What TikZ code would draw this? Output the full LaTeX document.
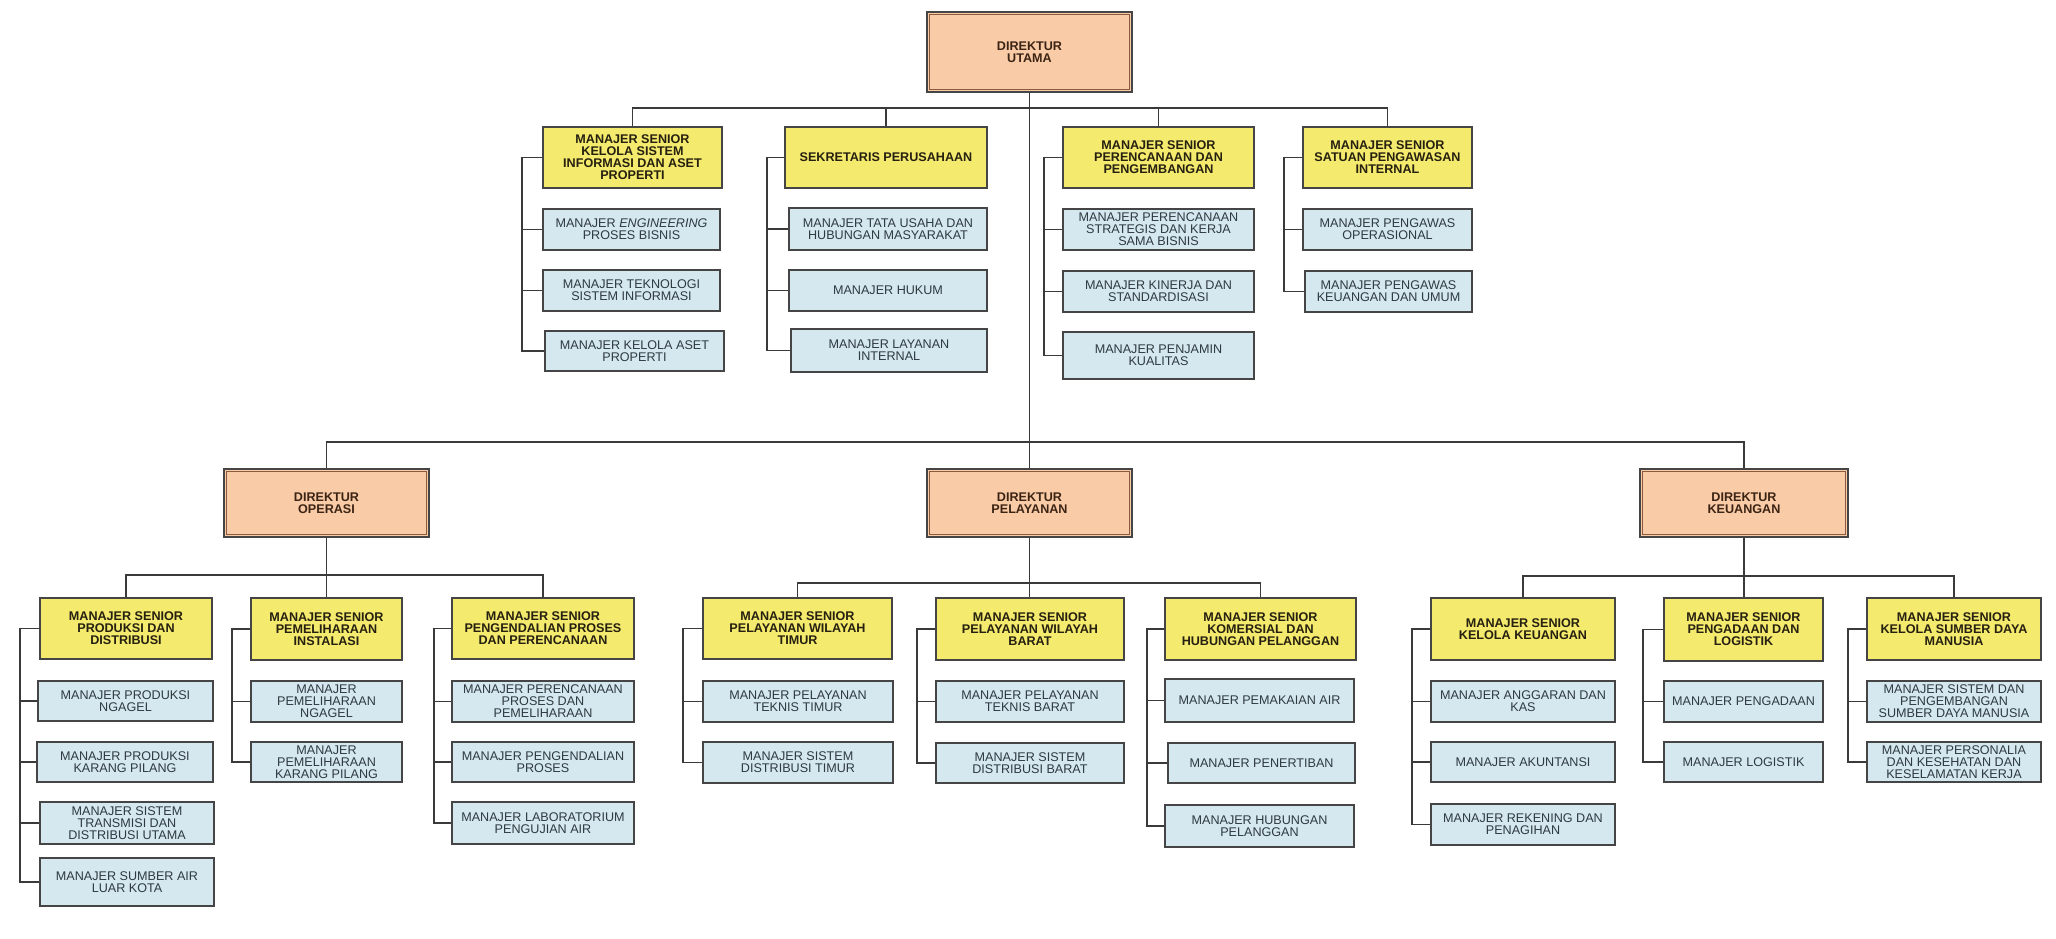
\documentclass[tikz,border=0pt]{standalone}
\usepackage{fontspec}
\setmainfont{Liberation Sans}
\definecolor{ybg}{HTML}{F4EA6D}
\definecolor{bbg}{HTML}{D5E8EF}
\definecolor{pbg}{HTML}{F9CBA7}
\definecolor{lncol}{HTML}{3A3A3A}
\definecolor{bordcol}{HTML}{454545}
\definecolor{ytext}{HTML}{262010}
\definecolor{btext}{HTML}{2E3A40}
\definecolor{dtext}{HTML}{3C2414}
\definecolor{dinner}{HTML}{8A5A3E}
\newcommand{\fs}{\fontsize{12.6}{12}\selectfont}
\tikzset{
  basebox/.style={draw=bordcol, line width=1.4pt, inner sep=0pt, align=center},
  ybox/.style={basebox, fill=ybg, font=\fs\bfseries, text=ytext},
  bbox/.style={basebox, fill=bbg, font=\fs, text=btext},
  dbox/.style={basebox, line width=1.6pt, fill=pbg, font=\fs\bfseries, text=dtext},
  innerln/.style={draw=dinner, line width=0.9pt},
  conn/.style={draw=lncol, line width=1.5pt}
}
\newcommand{\boxnode}[7]{\node[#1, minimum width={#4-#3}, minimum height={#6-#5}] (#2) at ({(#3+#4)/2},{(#5+#6)/2}) {#7};}
\newcommand{\dirinner}[1]{\draw[innerln] ([shift={(3.5,3.5)}]#1.north west) rectangle ([shift={(-3.5,-3.5)}]#1.south east);}
\newcommand{\brk}[4]{%
  \coordinate (b#1) at (#2,0);
  \draw[conn] (#1.west) -- (#1.west -| b#1) |- (#3.west);
  \foreach \ch in {#4} {\draw[conn] (\ch.west -| b#1) -- (\ch.west);}
}
\begin{document}
\begin{tikzpicture}[x=1pt,y=-1pt]
\fill[white] (0,0) rectangle (2056,939);
\useasboundingbox (0,0) rectangle (2056,939);

% ---- top level ----
\boxnode{dbox}{du}{927}{1132}{12}{92}{DIREKTUR\\UTAMA}
\dirinner{du}

\boxnode{ybox}{A}{543}{722}{127}{188}{MANAJER SENIOR\\KELOLA SISTEM\\INFORMASI DAN ASET\\PROPERTI}
\boxnode{ybox}{B}{785}{987}{127}{188}{SEKRETARIS PERUSAHAAN}
\boxnode{ybox}{C}{1063}{1254}{127}{188}{MANAJER SENIOR\\PERENCANAAN DAN\\PENGEMBANGAN}
\boxnode{ybox}{D}{1303}{1472}{127}{188}{MANAJER SENIOR\\SATUAN PENGAWASAN\\INTERNAL}

\boxnode{bbox}{A1}{543}{720}{209}{250}{MANAJER \textit{ENGINEERING}\\PROSES BISNIS}
\boxnode{bbox}{A2}{543}{720}{270}{311}{MANAJER TEKNOLOGI\\SISTEM INFORMASI}
\boxnode{bbox}{A3}{545}{724}{331}{371}{MANAJER KELOLA ASET\\PROPERTI}
\boxnode{bbox}{B1}{789}{987}{208}{250}{MANAJER TATA USAHA DAN\\HUBUNGAN MASYARAKAT}
\boxnode{bbox}{B2}{789}{987}{270}{311}{MANAJER HUKUM}
\boxnode{bbox}{B3}{791}{987}{329}{372}{MANAJER LAYANAN\\INTERNAL}
\boxnode{bbox}{C1}{1063}{1254}{209}{250}{MANAJER PERENCANAAN\\STRATEGIS DAN KERJA\\SAMA BISNIS}
\boxnode{bbox}{C2}{1063}{1254}{271}{312}{MANAJER KINERJA DAN\\STANDARDISASI}
\boxnode{bbox}{C3}{1063}{1254}{332}{379}{MANAJER PENJAMIN\\KUALITAS}
\boxnode{bbox}{D1}{1303}{1472}{209}{250}{MANAJER PENGAWAS\\OPERASIONAL}
\boxnode{bbox}{D2}{1305}{1472}{271}{312}{MANAJER PENGAWAS\\KEUANGAN DAN UMUM}

% ---- directors ----
\boxnode{dbox}{do}{224}{429}{469}{537}{DIREKTUR\\OPERASI}
\boxnode{dbox}{dp}{927}{1132}{469}{537}{DIREKTUR\\PELAYANAN}
\boxnode{dbox}{dk}{1640}{1848}{469}{537}{DIREKTUR\\KEUANGAN}
\dirinner{do}
\dirinner{dp}
\dirinner{dk}

% ---- operasi ----
\boxnode{ybox}{OA}{40}{212}{598}{659}{MANAJER SENIOR\\PRODUKSI DAN\\DISTRIBUSI}
\boxnode{ybox}{OB}{251}{402}{598}{660}{MANAJER SENIOR\\PEMELIHARAAN\\INSTALASI}
\boxnode{ybox}{OC}{452}{634}{598}{659}{MANAJER SENIOR\\PENGENDALIAN PROSES\\DAN PERENCANAAN}
\boxnode{bbox}{OA1}{38}{213}{681}{721}{MANAJER PRODUKSI\\NGAGEL}
\boxnode{bbox}{OA2}{37}{213}{742}{782}{MANAJER PRODUKSI\\KARANG PILANG}
\boxnode{bbox}{OA3}{40}{214}{802}{844}{MANAJER SISTEM\\TRANSMISI DAN\\DISTRIBUSI UTAMA}
\boxnode{bbox}{OA4}{40}{214}{858}{906}{MANAJER SUMBER AIR\\LUAR KOTA}
\boxnode{bbox}{OB1}{251}{402}{681}{722}{MANAJER\\PEMELIHARAAN\\NGAGEL}
\boxnode{bbox}{OB2}{251}{402}{742}{782}{MANAJER\\PEMELIHARAAN\\KARANG PILANG}
\boxnode{bbox}{OC1}{452}{634}{681}{722}{MANAJER PERENCANAAN\\PROSES DAN\\PEMELIHARAAN}
\boxnode{bbox}{OC2}{452}{634}{742}{782}{MANAJER PENGENDALIAN\\PROSES}
\boxnode{bbox}{OC3}{452}{634}{802}{844}{MANAJER LABORATORIUM\\PENGUJIAN AIR}

% ---- pelayanan ----
\boxnode{ybox}{PA}{703}{892}{598}{659}{MANAJER SENIOR\\PELAYANAN WILAYAH\\TIMUR}
\boxnode{ybox}{PB}{936}{1124}{598}{660}{MANAJER SENIOR\\PELAYANAN WILAYAH\\BARAT}
\boxnode{ybox}{PC}{1165}{1356}{598}{660}{MANAJER SENIOR\\KOMERSIAL DAN\\HUBUNGAN PELANGGAN}
\boxnode{bbox}{PA1}{703}{893}{681}{722}{MANAJER PELAYANAN\\TEKNIS TIMUR}
\boxnode{bbox}{PA2}{703}{893}{742}{783}{MANAJER SISTEM\\DISTRIBUSI TIMUR}
\boxnode{bbox}{PB1}{936}{1124}{681}{722}{MANAJER PELAYANAN\\TEKNIS BARAT}
\boxnode{bbox}{PB2}{936}{1124}{743}{783}{MANAJER SISTEM\\DISTRIBUSI BARAT}
\boxnode{bbox}{PC1}{1165}{1354}{679}{722}{MANAJER PEMAKAIAN AIR}
\boxnode{bbox}{PC2}{1168}{1355}{743}{783}{MANAJER PENERTIBAN}
\boxnode{bbox}{PC3}{1165}{1354}{805}{847}{MANAJER HUBUNGAN\\PELANGGAN}

% ---- keuangan ----
\boxnode{ybox}{KA}{1431}{1615}{598}{660}{MANAJER SENIOR\\KELOLA KEUANGAN}
\boxnode{ybox}{KB}{1664}{1823}{598}{661}{MANAJER SENIOR\\PENGADAAN DAN\\LOGISTIK}
\boxnode{ybox}{KC}{1867}{2041}{598}{660}{MANAJER SENIOR\\KELOLA SUMBER DAYA\\MANUSIA}
\boxnode{bbox}{KA1}{1431}{1615}{681}{722}{MANAJER ANGGARAN DAN\\KAS}
\boxnode{bbox}{KA2}{1431}{1615}{742}{782}{MANAJER AKUNTANSI}
\boxnode{bbox}{KA3}{1431}{1615}{804}{845}{MANAJER REKENING DAN\\PENAGIHAN}
\boxnode{bbox}{KB1}{1664}{1823}{681}{722}{MANAJER PENGADAAN}
\boxnode{bbox}{KB2}{1664}{1823}{742}{782}{MANAJER LOGISTIK}
\boxnode{bbox}{KC1}{1867}{2041}{681}{722}{MANAJER SISTEM DAN\\PENGEMBANGAN\\SUMBER DAYA MANUSIA}
\boxnode{bbox}{KC2}{1867}{2041}{742}{782}{MANAJER PERSONALIA\\DAN KESEHATAN DAN\\KESELAMATAN KERJA}

% ---- tree connectors ----
\coordinate (hT) at (0,108);
\coordinate (hD) at (0,442);
\coordinate (hO) at (0,575);
\coordinate (hP) at (0,583);
\coordinate (hK) at (0,576);
\draw[conn] (du.south) -- (dp.north);
\draw[conn] (A.north) -- (A.north |- hT) -- (D.north |- hT) -- (D.north);
\draw[conn] (B.north) -- (B.north |- hT);
\draw[conn] (C.north) -- (C.north |- hT);
\draw[conn] (do.north) -- (do.north |- hD) -- (dk.north |- hD) -- (dk.north);
\draw[conn] (do.south) -- (do.south |- OB.north);
\draw[conn] (OA.north) -- (OA.north |- hO) -- (OC.north |- hO) -- (OC.north);
\draw[conn] (dp.south) -- (dp.south |- PB.north);
\draw[conn] (PA.north) -- (PA.north |- hP) -- (PC.north |- hP) -- (PC.north);
\draw[conn] (dk.south) -- (dk.south |- KB.north);
\draw[conn] (KA.north) -- (KA.north |- hK) -- (KC.north |- hK) -- (KC.north);

% ---- brackets ----
\brk{A}{522}{A3}{A1,A2}
\brk{B}{767}{B3}{B1,B2}
\brk{C}{1044}{C3}{C1,C2}
\brk{D}{1284}{D2}{D1}
\brk{OA}{20}{OA4}{OA1,OA2,OA3}
\brk{OB}{232}{OB2}{OB1}
\brk{OC}{434}{OC3}{OC1,OC2}
\brk{PA}{683}{PA2}{PA1}
\brk{PB}{917}{PB2}{PB1}
\brk{PC}{1147}{PC3}{PC1,PC2}
\brk{KA}{1412}{KA3}{KA1,KA2}
\brk{KB}{1643}{KB2}{KB1}
\brk{KC}{1848}{KC2}{KC1}
\end{tikzpicture}
\end{document}
